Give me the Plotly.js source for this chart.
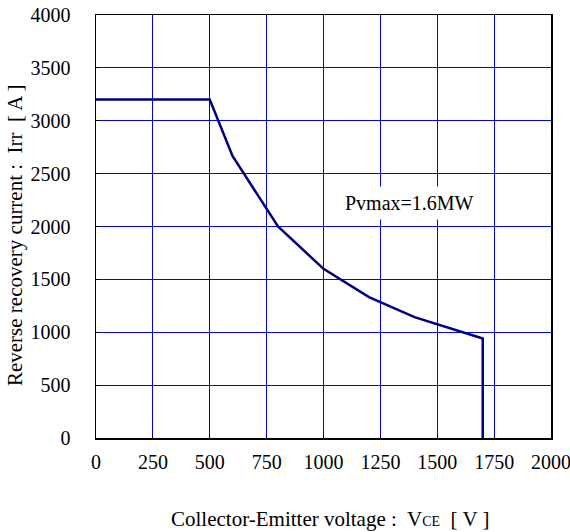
<!DOCTYPE html>
<html>
<head>
<meta charset="utf-8">
<script src="https://cdn.plot.ly/plotly-3.0.1.min.js"></script>
<style>html,body{margin:0;padding:0;background:#fff;}#chart{width:570px;height:532px;}</style>
</head>
<body>
<div id="chart"></div>
<script>
const voltage = [0, 500, 600, 800, 1000, 1200, 1400, 1700, 1700];
const current = [3200, 3200, 2667, 2000, 1600, 1333, 1143, 941, 0];
const xTicks = [0, 250, 500, 750, 1000, 1250, 1500, 1750, 2000];
const yTicks = [0, 500, 1000, 1500, 2000, 2500, 3000, 3500, 4000];
const noteText = 'Pvmax=1.6MW';
const noteX = 1413;
const noteY = 2222;
const xTitle = 'Collector-Emitter voltage :  V<span style="font-size:14px">CE</span>  [ V ]';
const yTitle = 'Reverse recovery current :  Irr  [ A ]';

const font = '"Liberation Serif", "Times New Roman", serif';
const trace = {
  x: voltage, y: current, type: 'scatter', mode: 'lines',
  line: {color: '#000080', width: 2.5}, hoverinfo: 'none'
};
const axisCommon = {
  showgrid: true, gridcolor: '#0000FF', gridwidth: 1,
  showline: true, linecolor: '#000', linewidth: 1.5, mirror: true,
  ticks: 'inside', ticklen: 3, tickcolor: '#000',
  zeroline: false, tickfont: {size: 20, family: font},
  ticklabeloverflow: 'allow'
};
const layout = {
  width: 570, height: 532,
  margin: {l: 96, r: 19, t: 15, b: 94},
  paper_bgcolor: '#fff', plot_bgcolor: '#fff',
  font: {family: font, color: '#000', size: 20},
  showlegend: false,
  xaxis: Object.assign({}, axisCommon, {
    range: [0, 2000], tickvals: xTicks, ticktext: xTicks.map(String),
    ticklabelstandoff: 5
  }),
  yaxis: Object.assign({}, axisCommon, {
    range: [0, 4000], tickvals: yTicks, ticktext: yTicks.map(String),
    ticklabelstandoff: 20
  }),
  annotations: [{
    x: noteX, y: noteY, xref: 'x', yref: 'y', text: noteText, showarrow: false,
    bgcolor: '#fff', width: 145, height: 30, align: 'left',
    font: {size: 20, family: font, color: '#000'}
  }, {
    x: 0.515, y: -0.191, xref: 'paper', yref: 'paper', text: xTitle, showarrow: false,
    xanchor: 'center', yanchor: 'middle', font: {size: 21, family: font, color: '#000'}
  }, {
    x: -0.178, y: 0.4775, xref: 'paper', yref: 'paper', text: yTitle, showarrow: false,
    textangle: -90, xanchor: 'center', yanchor: 'middle', font: {size: 21, family: font, color: '#000'}
  }]
};
Plotly.newPlot('chart', [trace], layout, {displayModeBar: false, staticPlot: true});
</script>
</body>
</html>
